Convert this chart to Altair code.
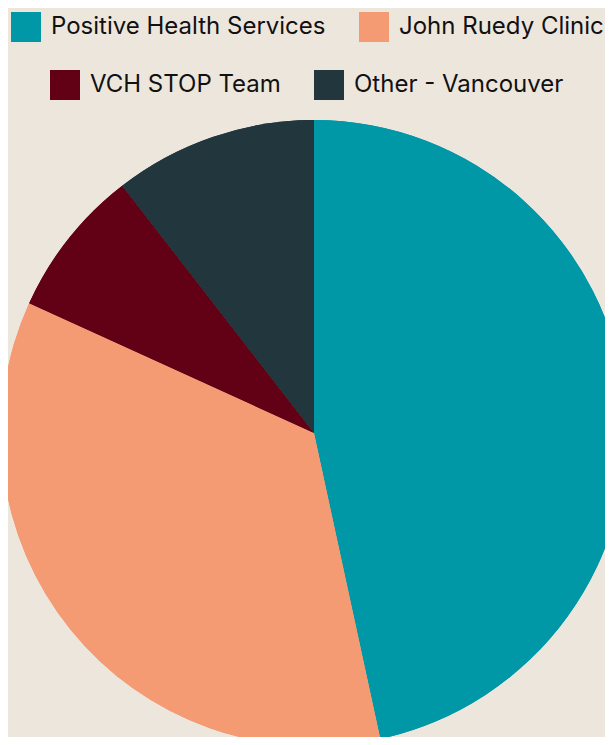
import altair as alt
import pandas as pd

categories = ["Positive Health Services", "John Ruedy Clinic", "VCH STOP Team", "Other - Vancouver"]
values = [46.6, 35.2, 7.7, 10.5]
colors = ["#0097a7", "#f49b74", "#620016", "#22363d"]
order_idx = [0, 1, 2, 3]

df = pd.DataFrame({"category": categories, "value": values, "idx": order_idx})

FONT = "Inter"

def legend(vals, x, y):
    return alt.Legend(
        title=None, values=vals, orient="none", legendX=x, legendY=y,
        direction="horizontal", symbolType="square", symbolSize=900,
        symbolStrokeWidth=0, labelFontSize=24, labelFont=FONT,
        labelColor="#111111", labelOffset=10, columnPadding=33,
        labelLimit=400, symbolOpacity=1, padding=0,
    )

base = alt.Chart(df).mark_arc(radius=313, strokeWidth=0).encode(
    x=alt.value(306),
    y=alt.value(425),
    theta=alt.Theta("value:Q", stack=True),
    order=alt.Order("idx:Q"),
)

layer1 = base.encode(
    color=alt.Color("category:N", scale=alt.Scale(domain=categories, range=colors),
                    legend=legend(categories[:2], 3, 4))
)
layer2 = base.encode(
    color=alt.Color("category:N", scale=alt.Scale(domain=categories, range=colors),
                    legend=legend(categories[2:], 42, 62))
)

chart = alt.layer(layer1, layer2).resolve_scale(color="independent").properties(
    width=597, height=729, autosize=alt.AutoSizeParams(type="none"), padding=0,
    background="#ede6dd",
).configure_view(stroke=None)

chart.save("out.html", embed_options={"renderer": "svg", "actions": False})
